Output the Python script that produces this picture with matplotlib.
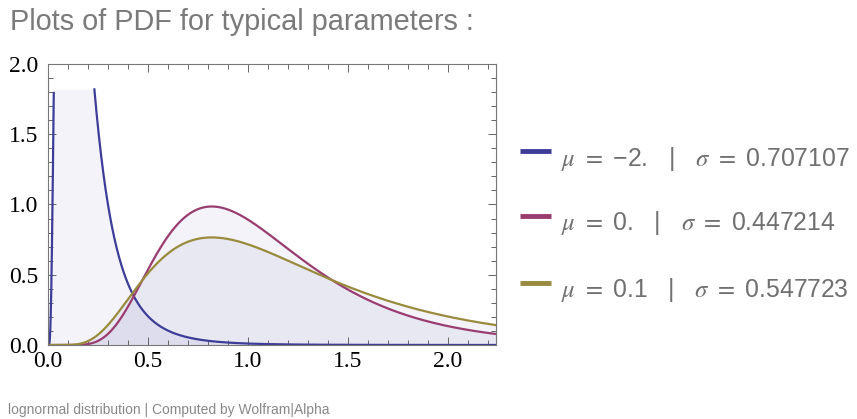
#!/usr/bin/env python3
"""Lognormal PDF curves for a few typical (mu, sigma) pairs."""

import numpy as np
import matplotlib
matplotlib.use("Agg")
import matplotlib.pyplot as plt
from matplotlib.lines import Line2D
from matplotlib.ticker import MultipleLocator, FormatStrFormatter

# Distribution parameters and their legend text
mus = [-2.0, 0.0, 0.1]
sigmas = [0.707107, 0.447214, 0.547723]
mu_labels = ["\u22122.", "0.", "0.1"]
sigma_labels = ["0.707107", "0.447214", "0.547723"]

title = "Plots of PDF for typical parameters :"
footer = "lognormal distribution | Computed by Wolfram|Alpha"

colors = [(0.24, 0.24, 0.6), (0.6, 0.24, 0.4428), (0.6, 0.547, 0.24)]
fill_color = (0.24, 0.24, 0.6)
x_max = 2.24
y_max = 2.0
plot_cap = 1.82  # plot range clip for the tall curve

plt.rcParams["mathtext.fontset"] = "stix"


def lognormal_pdf(x, mu, sigma):
    return np.exp(-(np.log(x) - mu) ** 2 / (2 * sigma ** 2)) / (x * sigma * np.sqrt(2 * np.pi))


def main():
    W, H = 857, 419
    fig = plt.figure(figsize=(W / 100, H / 100), dpi=100)
    ax = fig.add_axes([48 / W, 1 - 345 / H, 448 / W, 281 / H])

    x = np.linspace(1e-4, x_max, 6000)
    for mu, sigma, c in zip(mus, sigmas, colors):
        y = lognormal_pdf(x, mu, sigma)
        ax.fill_between(x, 0, np.minimum(y, plot_cap), color=fill_color,
                        alpha=0.06, linewidth=0)
        y_line = np.where(y <= plot_cap, y, np.nan)
        ax.plot(x, y_line, color=c, lw=1.6)

    ax.set_xlim(0, x_max)
    ax.set_ylim(0, y_max)
    ax.xaxis.set_major_locator(MultipleLocator(0.5))
    ax.xaxis.set_minor_locator(MultipleLocator(0.1))
    ax.yaxis.set_major_locator(MultipleLocator(0.5))
    ax.yaxis.set_minor_locator(MultipleLocator(0.1))
    ax.xaxis.set_major_formatter(FormatStrFormatter("%.1f"))
    ax.yaxis.set_major_formatter(FormatStrFormatter("%.1f"))
    ax.tick_params(which="both", direction="in", top=True, right=True,
                   color="#666666", width=0.7)
    ax.tick_params(which="major", length=6, labelsize=17)
    ax.tick_params(axis="x", which="major", pad=4)
    ax.tick_params(axis="y", which="major", pad=7)
    ax.tick_params(which="minor", length=3.5)
    for lab in ax.get_xticklabels() + ax.get_yticklabels():
        lab.set_fontfamily("Liberation Serif")
    for sp in ax.spines.values():
        sp.set_color("#777777")
        sp.set_linewidth(0.8)

    # legend drawn by hand: swatch line sits a little above the text
    legend_rows = [151.5, 216, 283]
    for yp, c, ml, sl in zip(legend_rows, colors, mu_labels, sigma_labels):
        yf = 1 - yp / H
        fig.add_artist(Line2D([520 / W, 551 / W], [yf, yf], color=c, lw=3.5,
                              solid_capstyle="butt", transform=fig.transFigure))
        label = r"$\mu$ $=$ " + f"{ml}   |   " + r"$\sigma$ $=$ " + sl
        fig.text(561 / W, 1 - (yp + 14) / H, label, fontsize=17.8, color="#707070",
                 family="Liberation Sans", va="baseline")

    fig.text(10 / W, 1 - 30 / H, title, fontsize=20.8, color="#7a7a7a",
             family="Liberation Sans", va="baseline")
    fig.text(8 / W, 1 - 414 / H, footer, fontsize=10, color="#888888",
             family="Liberation Sans", va="baseline")

    fig.savefig("out.png", dpi=100)
    plt.close(fig)


if __name__ == "__main__":
    main()
